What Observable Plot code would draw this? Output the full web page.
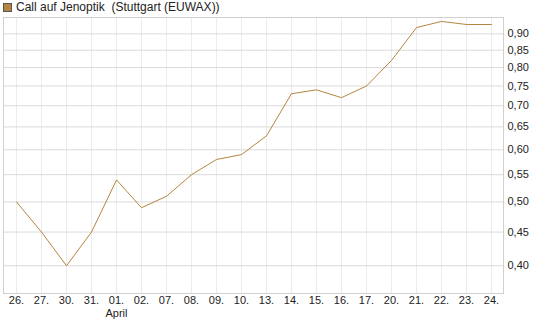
<!DOCTYPE html>
<html>
<head>
<meta charset="utf-8">
<script src="https://cdn.jsdelivr.net/npm/d3@7"></script>
<script src="https://cdn.jsdelivr.net/npm/@observablehq/plot@0.6"></script>
<style>
  html, body { margin: 0; padding: 0; background: #fff; }
  body { width: 545px; height: 327px; overflow: hidden; font-family: "Liberation Sans", Arial, sans-serif; }
  #legend { height: 16px; position: relative; font-size: 12px; color: #222; }
  #legend .sw { position: absolute; left: 3px; top: 3px; width: 7px; height: 7px; background: #b5853f; border: 1px solid #555; }
  #legend .tx { position: absolute; left: 16px; top: 0px; line-height: 14px; white-space: pre; }
  svg { display: block; }
</style>
</head>
<body>
<div id="legend"><span class="sw"></span><span class="tx">Call auf Jenoptik  (Stuttgart (EUWAX))</span></div>
<div id="chart"></div>
<script>
const dayLabels = ["26.", "27.", "30.", "31.", "01.", "02.", "07.", "08.", "09.", "10.", "13.", "14.", "15.", "16.", "17.", "20.", "21.", "22.", "23.", "24."];
const prices = [0.50, 0.45, 0.40, 0.45, 0.54, 0.49, 0.51, 0.55, 0.58, 0.59, 0.63, 0.73, 0.74, 0.72, 0.75, 0.82, 0.92, 0.94, 0.93, 0.93];
const yTicks = [0.40, 0.45, 0.50, 0.55, 0.60, 0.65, 0.70, 0.75, 0.80, 0.85, 0.90];
const monthLabel = [{day: "01.", text: "April"}];

const data = dayLabels.map((d, i) => ({day: d, value: prices[i]}));
const fmt = v => v.toFixed(2).replace(".", ",");

const plot = Plot.plot({
  width: 545,
  height: 311,
  marginTop: 1,
  marginBottom: 34,
  marginLeft: 3,
  marginRight: 42,
  style: {fontFamily: "'Liberation Sans', Arial, sans-serif", fontSize: "11px", color: "#222", background: "#fff"},
  x: {type: "point", domain: dayLabels, padding: 0.5, axis: null},
  y: {type: "log", domain: [0.363, 0.953], axis: null},
  marks: [
    Plot.ruleX(dayLabels, {x: d => d, stroke: "#ececec", strokeWidth: 1}),
    Plot.ruleY(yTicks, {y: d => d, stroke: "#dadada", strokeWidth: 1}),
    Plot.frame({stroke: "#d0d0d0"}),
    Plot.line(data, {x: "day", y: "value", stroke: "#b5853f", strokeWidth: 1}),
    Plot.axisY(yTicks, {anchor: "right", label: null, tickSize: 0, tickPadding: 4, tickFormat: fmt, textAnchor: "start", fill: "#222", fontSize: 11}),
    Plot.axisX(dayLabels, {anchor: "bottom", label: null, tickSize: 0, tickPadding: 3, fill: "#222", fontSize: 11}),
    Plot.text(monthLabel, {x: "day", text: "text", fill: "#222", fontSize: 11, y: () => 0.363, dy: 16, lineAnchor: "top"})
  ]
});
document.getElementById("chart").appendChild(plot);
</script>
</body>
</html>
